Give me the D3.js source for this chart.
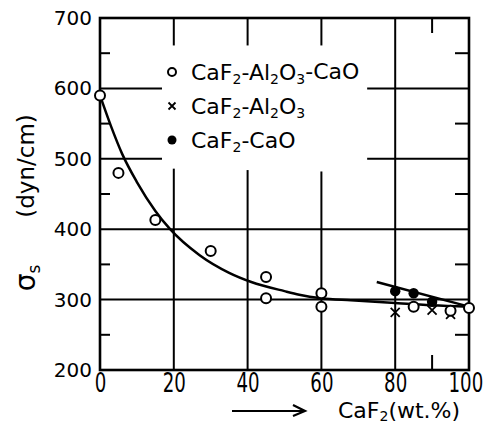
<!DOCTYPE html>
<html>
<head>
<meta charset="utf-8">
<script src="https://cdn.jsdelivr.net/npm/d3@7"></script>
<style>
  body { margin: 0; background: #fff; }
  svg { display: block; }
  text { font-family: "DejaVu Sans", sans-serif; fill: #000; }
</style>
</head>
<body>
<div id="vis"></div>
<script>
// axis ticks
var xTicks = [0, 20, 40, 60, 80, 100];
var yTicks = [200, 300, 400, 500, 600, 700];
var yMinor = [250, 350, 450, 550, 650];
var xMinor = [90];

// CaF2-Al2O3-CaO (open circles)
var ternaryX = [0, 5, 15, 30, 45, 45, 60, 60, 85, 95, 100];
var ternaryY = [590, 480, 413, 369, 332, 302, 309, 290, 290, 284, 288];
// CaF2-Al2O3 (crosses)
var alX = [80, 90, 95];
var alY = [282, 285, 279];
// CaF2-CaO (filled circles)
var caX = [80, 85, 90];
var caY = [312, 309, 297];

// drawn curves
var fitX = [0, 3, 6, 10, 15, 19, 27, 35, 41, 50, 54, 60, 68, 80, 90, 100];
var fitY = [590, 546, 507, 467, 426, 400, 363, 338, 325, 312, 307, 302, 299, 295, 292, 290];
var caLineX = [75, 100];
var caLineY = [325, 290];

var width = 486, height = 426;
var margin = {top: 18, right: 17, bottom: 56, left: 100};
var w = width - margin.left - margin.right,
    h = height - margin.top - margin.bottom;

var svg = d3.select("#vis").append("svg")
    .attr("width", width)
    .attr("height", height);

var g = svg.append("g")
    .attr("transform", "translate(" + margin.left + "," + margin.top + ")");

var x = d3.scaleLinear().domain([0, 100]).range([0, w]);
var y = d3.scaleLinear().domain([200, 700]).range([h, 0]);

var ink = "#000";

// horizontal grid: full at 300/400, broken by the legend at 500/600
[300, 400].forEach(function(v) {
  g.append("line").attr("x1", 0).attr("x2", w).attr("y1", y(v)).attr("y2", y(v))
    .attr("stroke", ink).attr("stroke-width", 2);
});
[500, 600].forEach(function(v) {
  g.append("line").attr("x1", 0).attr("x2", x(16.8)).attr("y1", y(v)).attr("y2", y(v))
    .attr("stroke", ink).attr("stroke-width", 2);
  g.append("line").attr("x1", x(72.4)).attr("x2", w).attr("y1", y(v)).attr("y2", y(v))
    .attr("stroke", ink).attr("stroke-width", 2);
});

// vertical grid: 20/40/60 broken by legend, 80 full
[20, 40, 60].forEach(function(v) {
  g.append("line").attr("x1", x(v)).attr("x2", x(v)).attr("y1", y(700)).attr("y2", y(661))
    .attr("stroke", ink).attr("stroke-width", 2);
  g.append("line").attr("x1", x(v)).attr("x2", x(v)).attr("y1", y(488 - v / 10)).attr("y2", y(200))
    .attr("stroke", ink).attr("stroke-width", 2);
});
g.append("line").attr("x1", x(80)).attr("x2", x(80)).attr("y1", y(700)).attr("y2", y(200))
  .attr("stroke", ink).attr("stroke-width", 2);

// minor ticks
yMinor.forEach(function(v) {
  g.append("line").attr("x1", 0).attr("x2", 10).attr("y1", y(v)).attr("y2", y(v))
    .attr("stroke", ink).attr("stroke-width", 2);
  g.append("line").attr("x1", w - 14).attr("x2", w).attr("y1", y(v)).attr("y2", y(v))
    .attr("stroke", ink).attr("stroke-width", 2);
});
xMinor.forEach(function(v) {
  g.append("line").attr("x1", x(v)).attr("x2", x(v)).attr("y1", h).attr("y2", h - 15)
    .attr("stroke", ink).attr("stroke-width", 2);
  g.append("line").attr("x1", x(v)).attr("x2", x(v)).attr("y1", 0).attr("y2", 15)
    .attr("stroke", ink).attr("stroke-width", 2);
});

// frame
g.append("rect").attr("width", w).attr("height", h)
  .attr("fill", "none").attr("stroke", ink).attr("stroke-width", 2.6);

// axes labels
var yAxis = g.append("g")
    .call(d3.axisLeft(y).tickValues(yTicks).tickSize(0).tickPadding(8));
yAxis.select(".domain").remove();
yAxis.selectAll("text").style("font-size", "20px").attr("font-family", "DejaVu Sans");

var xAxis = g.append("g")
    .attr("transform", "translate(0," + h + ")")
    .call(d3.axisBottom(x).tickValues(xTicks).tickSize(0).tickPadding(4));
xAxis.select(".domain").remove();
xAxis.selectAll("text")
    .style("font-size", "26px")
    .attr("font-family", "DejaVu Sans")
    .attr("dx", function(d) { return d === 100 ? "-0.2em" : null; })
    .attr("transform", "scale(0.7,1)");

// fitted curve
var fit = fitX.map(function(d, i) { return [d, fitY[i]]; });
var line = d3.line()
    .x(function(d) { return x(d[0]); })
    .y(function(d) { return y(d[1]); })
    .curve(d3.curveMonotoneX);
g.append("path").datum(fit).attr("d", line)
  .attr("fill", "none").attr("stroke", ink).attr("stroke-width", 2.5);

var caLine = caLineX.map(function(d, i) { return [d, caLineY[i]]; });
g.append("path").datum(caLine).attr("d", d3.line().x(function(d) { return x(d[0]); }).y(function(d) { return y(d[1]); }))
  .attr("fill", "none").attr("stroke", ink).attr("stroke-width", 2.5);

// markers
function cross(sel, cx, cy, r) {
  sel.append("path")
    .attr("d", "M" + (cx - r) + "," + (cy - r) + "L" + (cx + r) + "," + (cy + r) +
               "M" + (cx - r) + "," + (cy + r) + "L" + (cx + r) + "," + (cy - r))
    .attr("stroke", ink).attr("stroke-width", 1.8).attr("fill", "none");
}

alX.forEach(function(d, i) { cross(g, x(d), y(alY[i]), 4.5); });

g.selectAll(".open").data(ternaryX).enter().append("circle")
    .attr("cx", function(d) { return x(d); })
    .attr("cy", function(d, i) { return y(ternaryY[i]); })
    .attr("r", 5)
    .attr("fill", "#fff").attr("stroke", ink).attr("stroke-width", 2);

g.selectAll(".solid").data(caX).enter().append("circle")
    .attr("cx", function(d) { return x(d); })
    .attr("cy", function(d, i) { return y(caY[i]); })
    .attr("r", 5.2)
    .attr("fill", ink);

// legend
var legend = svg.append("g").attr("transform", "translate(172,72)");
var rows = [
  {sym: "open", parts: [["CaF", 0], ["2", 1], ["-Al", 0], ["2", 1], ["O", 0], ["3", 1], ["-CaO", 0]]},
  {sym: "cross", parts: [["CaF", 0], ["2", 1], ["-Al", 0], ["2", 1], ["O", 0], ["3", 1]]},
  {sym: "solid", parts: [["CaF", 0], ["2", 1], ["-CaO", 0]]}
];
rows.forEach(function(r, i) {
  var ry = i * 34;
  if (r.sym === "open") {
    legend.append("circle").attr("cx", 0).attr("cy", ry).attr("r", 4)
      .attr("fill", "#fff").attr("stroke", ink).attr("stroke-width", 2);
  } else if (r.sym === "cross") {
    cross(legend, 0, ry, 3.5);
  } else {
    legend.append("circle").attr("cx", 0).attr("cy", ry).attr("r", 4.5).attr("fill", ink);
  }
  var t = legend.append("text").attr("x", 19).attr("y", ry).attr("dy", "0.36em")
      .style("font-size", "22px");
  r.parts.forEach(function(p) {
    var s = t.append("tspan").text(p[0]);
    if (p[1]) s.style("font-size", "14px").attr("dy", "0.3em");
    else s.attr("dy", s.node().previousSibling ? "-0.2em" : null);
  });
});

// x axis title + arrow
var xt = svg.append("text").attr("x", 338).attr("y", 418).style("font-size", "22px");
xt.append("tspan").text("CaF");
xt.append("tspan").text("2").style("font-size", "14px").attr("dy", "3");
xt.append("tspan").text("(wt.%)").attr("dy", "-3");

svg.append("line").attr("x1", 232).attr("x2", 304).attr("y1", 411).attr("y2", 411)
  .attr("stroke", ink).attr("stroke-width", 2.2);
svg.append("path").attr("d", "M293,405L305,411L293,416")
  .attr("fill", "none").attr("stroke", ink).attr("stroke-width", 2.2);

// y axis title
svg.append("text")
  .attr("transform", "translate(34,166) rotate(-90)")
  .attr("text-anchor", "middle")
  .style("font-size", "23px")
  .text("(dyn/cm)");

var sig = svg.append("text")
  .attr("transform", "translate(35,278) rotate(-90)")
  .attr("text-anchor", "middle")
  .style("font-size", "28px");
sig.append("tspan").text("\u03c3");
sig.append("tspan").text("s").style("font-size", "17px").attr("dy", "5");
</script>
</body>
</html>
